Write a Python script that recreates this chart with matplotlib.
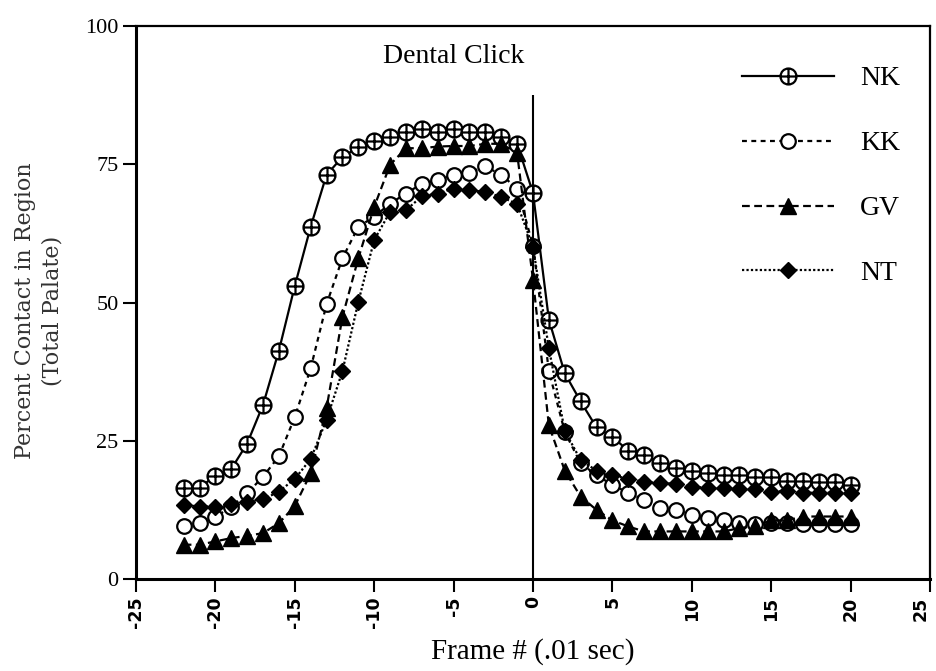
import numpy as np
import matplotlib
matplotlib.use("Agg")
import matplotlib.pyplot as plt
from matplotlib.path import Path

# frame numbers (.01 sec) and percent contact for each speaker
frames = list(range(-22, 21))

nk = [16.5, 16.5, 18.7, 19.9, 24.5, 31.5, 41.3, 53.0, 63.7, 73.1, 76.3, 78.1, 79.2, 80.0,
      80.9, 81.3, 80.9, 81.3, 80.9, 80.9, 79.9, 78.7, 69.8, 46.9, 37.2, 32.1, 27.4, 25.7,
      23.2, 22.4, 21.0, 20.0, 19.6, 19.1, 18.8, 18.8, 18.4, 18.4, 17.8, 17.8, 17.5, 17.5, 17.0]
kk = [9.6, 10.2, 11.2, 13.1, 15.5, 18.5, 22.2, 29.3, 38.1, 49.7, 58.0, 63.7, 65.5, 67.9,
      69.7, 71.5, 72.1, 73.1, 73.5, 74.6, 73.1, 70.6, 60.3, 37.6, 26.6, 20.9, 18.8, 17.0,
      15.6, 14.3, 12.8, 12.5, 11.6, 11.0, 10.7, 10.2, 10.0, 10.1, 10.1, 10.0, 10.0, 10.0, 10.0]
gv = [6.2, 6.2, 6.8, 7.4, 7.8, 8.3, 10.1, 13.2, 19.1, 30.9, 47.4, 58.0, 67.3, 74.9,
      77.9, 77.9, 78.2, 78.3, 78.3, 78.7, 78.7, 77.0, 54.1, 27.8, 19.6, 14.9, 12.5, 10.6,
      9.5, 8.6, 8.6, 8.6, 8.6, 8.6, 8.6, 9.2, 9.6, 10.6, 10.6, 11.3, 11.3, 11.3, 11.3]
nt = [13.4, 13.1, 13.1, 13.5, 14.0, 14.4, 15.8, 18.1, 21.7, 28.8, 37.6, 50.1, 61.3, 66.4,
      66.7, 69.2, 69.7, 70.6, 70.3, 70.0, 69.1, 67.8, 60.1, 41.7, 26.8, 21.5, 19.6, 18.8,
      18.1, 17.6, 17.4, 17.2, 16.7, 16.5, 16.4, 16.3, 16.2, 15.8, 15.9, 15.6, 15.6, 15.6, 15.5]

x_ticks = [-25, -20, -15, -10, -5, 0, 5, 10, 15, 20, 25]
y_ticks = [0, 25, 50, 75, 100]

# circle with a cross inside (for NK)
oplus = Path.make_compound_path(
    Path.unit_circle(),
    Path([[-1, 0], [1, 0]], [Path.MOVETO, Path.LINETO]),
    Path([[0, -1], [0, 1]], [Path.MOVETO, Path.LINETO]),
)

serif = ['Liberation Serif', 'DejaVu Serif']

fig = plt.figure(figsize=(9.37, 6.71), dpi=100)
ax = fig.add_axes([136 / 937, 1 - 579 / 671, 794 / 937, 553 / 671])

ax.plot(frames, nk, color='black', lw=1.6, ls='-', marker=oplus, ms=11.5,
        mfc='white', mec='black', mew=1.6, label='NK')
ax.plot(frames, kk, color='black', lw=1.6, ls=(0, (2.2, 2.0)), marker='o', ms=10.5,
        mfc='white', mec='black', mew=1.6, label='KK')
ax.plot(frames, gv, color='black', lw=1.6, ls=(0, (3.5, 2.0)), marker='^', ms=11,
        mfc='black', mec='black', label='GV')
ax.plot(frames, nt, color='black', lw=1.6, ls=(0, (1.0, 1.0)), marker='D', ms=8.5,
        mfc='black', mec='black', label='NT')

# onset of the click
ax.vlines(0, 0, 87.5, color='black', lw=1.5)
ax.text(-5, 94.5, 'Dental Click', ha='center', va='center', fontsize=20, family=serif)

ax.set_xlim(-25, 25)
ax.set_ylim(0, 100)
ax.set_xticks(x_ticks)
ax.set_yticks(y_ticks)
xlabels = ax.set_xticklabels([str(t) for t in x_ticks], rotation=90, fontsize=12.5,
                             fontweight='bold', family='DejaVu Sans')
# keep the last label inside the figure edge
xlabels[-1].set_ha('right')
ax.set_yticklabels([str(t) for t in y_ticks], fontsize=16, family=serif)
ax.tick_params(direction='out', length=9.5, width=1.5, pad=3)

for side in ['left', 'bottom']:
    ax.spines[side].set_linewidth(2.2)
for side in ['top', 'right']:
    ax.spines[side].set_linewidth(1.6)

fig.text(533 / 937, 1 - 652 / 671, 'Frame # (.01 sec)', ha='center', va='center',
         fontsize=21, family=serif)
fig.text(25 / 937, 1 - 311 / 671, 'Percent Contact in Region', rotation=90,
         ha='center', va='center', fontsize=16, family='DejaVu Serif', color='#333333')
fig.text(53 / 937, 1 - 311 / 671, '(Total Palate)', rotation=90,
         ha='center', va='center', fontsize=16, family='DejaVu Serif', color='#333333')

leg = ax.legend(loc='upper left', bbox_to_anchor=(742 / 937, 1 - 66 / 671),
                bbox_transform=fig.transFigure, frameon=False, borderpad=0,
                borderaxespad=0, handlelength=3.3, handletextpad=0.95,
                labelspacing=1.42, prop={'family': serif, 'size': 20})

fig.savefig('out.png', dpi=100)
